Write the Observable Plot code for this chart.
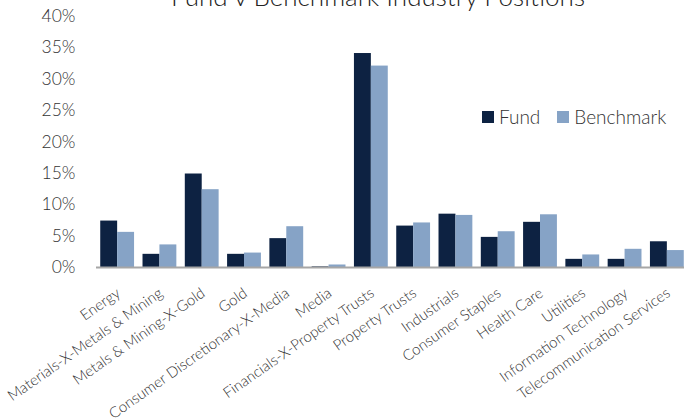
<!DOCTYPE html>
<html>
<head>
<meta charset="utf-8">
<script src="https://cdn.jsdelivr.net/npm/d3@7"></script>
<script src="https://cdn.jsdelivr.net/npm/@observablehq/plot@0.6"></script>
<style>
  html, body { margin: 0; padding: 0; background: #fff; overflow: hidden; }
  #wrap { position: relative; width: 684px; height: 420px; font-family: "Lato", sans-serif; font-weight: 300; color: #333; }
  #title { position: absolute; top: -17px; left: 36px; width: 684px; text-align: center; font-size: 26px; line-height: 26px; color: #222; white-space: nowrap; }
  #legend { position: absolute; top: 105px; left: 482px; display: flex; align-items: center; font-size: 19px; color: #333; }
  #legend .sw { display: inline-block; width: 12px; height: 12px; margin-right: 5px; }
  #legend .item { display: flex; align-items: center; margin-right: 17px; }
  #chart { position: absolute; top: 0; left: 0; }
</style>
</head>
<body>
<div id="wrap">
  <div id="chart"></div>
  <div id="title">Fund v Benchmark Industry Positions</div>
  <div id="legend"></div>
</div>
<script>
const categories = [
  "Energy",
  "Materials-X-Metals & Mining",
  "Metals & Mining-X-Gold",
  "Gold",
  "Consumer Discretionary-X-Media",
  "Media",
  "Financials-X-Property Trusts",
  "Property Trusts",
  "Industrials",
  "Consumer Staples",
  "Health Care",
  "Utilities",
  "Information Technology",
  "Telecommunication Services"
];
const fund =      [7.4, 2.1, 14.9, 2.1, 4.6, 0.1, 34.1, 6.6, 8.5, 4.8, 7.2, 1.3, 1.3, 4.1];
const benchmark = [5.6, 3.6, 12.4, 2.3, 6.5, 0.4, 32.1, 7.1, 8.3, 5.7, 8.4, 2.0, 2.9, 2.7];
const yTicks = [0, 5, 10, 15, 20, 25, 30, 35, 40];
const seriesNames = ["Fund", "Benchmark"];
const seriesColors = ["#0d2242", "#86a3c6"];

const data = categories.map((c, i) => ({category: c, fund: fund[i], benchmark: benchmark[i]}));

const half = (592 / 14) * 0.8 / 2;

const chart = Plot.plot({
  width: 684,
  height: 420,
  marginLeft: 96,
  marginRight: 0,
  marginTop: 16,
  marginBottom: 153,
  style: {fontFamily: "Lato, sans-serif", fontWeight: 300, color: "#333", overflow: "visible"},
  x: {domain: categories, range: [96, 688], paddingInner: 0.2, paddingOuter: 0.1, round: false, label: null},
  y: {domain: [0, 40], label: null},
  marks: [
    Plot.axisY({ticks: yTicks, tickFormat: d => d + "%", tickSize: 0, tickPadding: 21, fontSize: 17.5, label: null}),
    Plot.axisX({tickSize: 0, tickRotate: -35, tickPadding: 24, dx: 1, fontSize: 15, label: null}),
    Plot.barY(data, {x: "category", y: "fund", fill: seriesColors[0], insetRight: half}),
    Plot.barY(data, {x: "category", y: "benchmark", fill: seriesColors[1], insetLeft: half}),
    Plot.ruleY([0], {stroke: "#a6a6a6", strokeWidth: 2})
  ]
});
document.getElementById("chart").appendChild(chart);

const legend = document.getElementById("legend");
seriesNames.forEach((name, i) => {
  const item = document.createElement("span");
  item.className = "item";
  const sw = document.createElement("span");
  sw.className = "sw";
  sw.style.background = seriesColors[i];
  item.appendChild(sw);
  item.appendChild(document.createTextNode(name));
  legend.appendChild(item);
});
</script>
</body>
</html>
